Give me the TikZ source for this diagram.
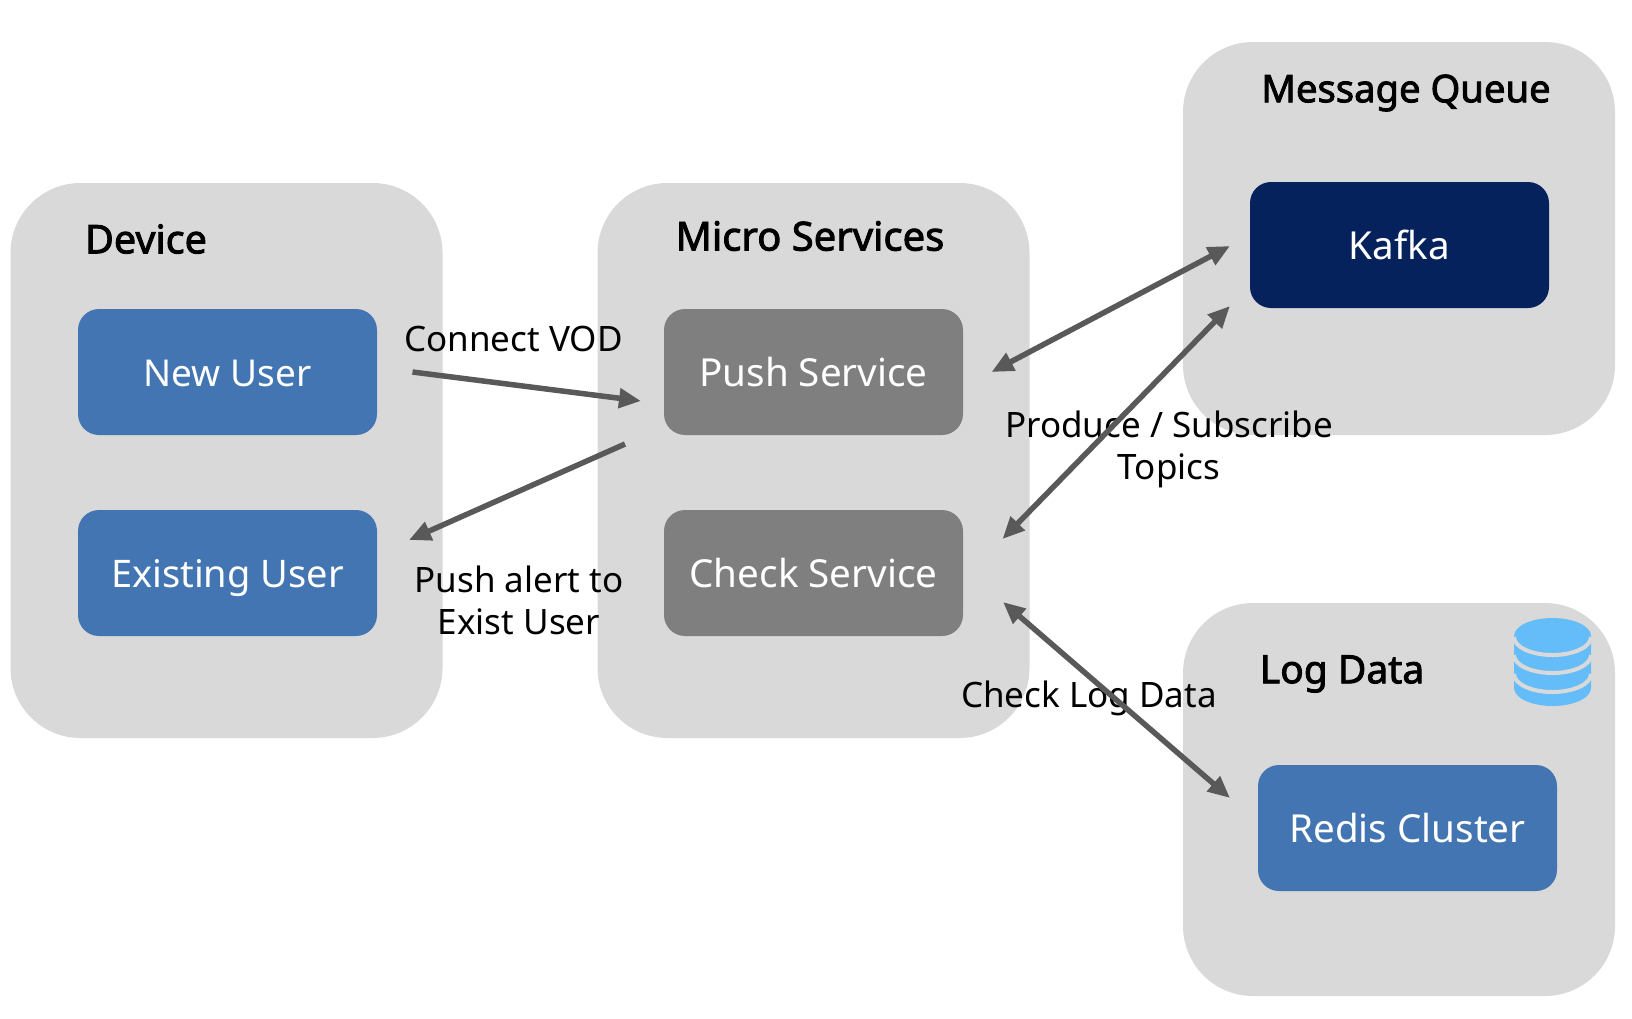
\documentclass[tikz,border=0pt]{standalone}
\usepackage{fontspec}
\setmainfont{Noto Sans}
\newfontfamily\titlefont[FakeBold=2.2]{Noto Sans}
\usetikzlibrary{arrows.meta}
\definecolor{groupgray}{HTML}{D9D9D9}
\definecolor{userblue}{HTML}{4275B1}
\definecolor{svcgray}{HTML}{7F7F7F}
\definecolor{kafkanavy}{HTML}{06225C}
\definecolor{arrowgray}{HTML}{595959}
\definecolor{dbblue}{HTML}{64BDF8}
\tikzset{
  group/.style={fill=groupgray,rounded corners=70pt,inner sep=0pt,minimum width=432pt},
  inbox/.style={rounded corners=21pt,inner sep=0pt,minimum width=299pt,minimum height=126pt,text=white,text height=28pt,text depth=0pt,font=\fontsize{38.6}{42}\selectfont},
  title/.style={inner sep=0pt,font=\fontsize{39}{42}\titlefont},
  label/.style={inner sep=0pt,align=center,font=\fontsize{35}{42}\selectfont},
  link/.style={draw=arrowgray,line width=5.5pt,-{Triangle[length=22pt,width=19pt]}},
  biglink/.style={draw=arrowgray,line width=5.5pt,{Triangle[length=22pt,width=19pt]}-{Triangle[length=22pt,width=19pt]}}
}
\begin{document}
\begin{tikzpicture}[x=1pt,y=-1pt]
\useasboundingbox (0,0) rectangle (1632,1018);
% groups
\node[group,minimum height=555pt] (device) at (226.5,460.5) {};
\node[group,minimum height=555pt] (micro) at (813.5,460.5) {};
\node[group,minimum height=393pt] (mq) at (1399,238.5) {};
\node[group,minimum height=393pt] (log) at (1399,799.5) {};
% boxes
\node[inbox,fill=userblue,font=\fontsize{37}{42}\selectfont] (newuser) at (227.5,372) {New User};
\node[inbox,fill=userblue,font=\fontsize{38}{42}\selectfont] (existing) at (227.5,573) {Existing User};
\node[inbox,fill=svcgray] (push) at (813.5,372) {Push Service};
\node[inbox,fill=svcgray] (check) at (813.5,573) {Check Service};
\node[inbox,fill=kafkanavy] (kafka) at (1399.5,245) {Kafka};
\node[inbox,fill=userblue] (redis) at (1407.5,828) {Redis Cluster};
% titles
\node[title,font=\fontsize{39.5}{42}\titlefont] (tdevice) at (146,239) {Device};
\node[title,font=\fontsize{40}{42}\titlefont] (tmicro) at (810,236) {Micro Services};
\node[title,font=\fontsize{38.2}{42}\titlefont] (tmq) at (1406,93) {Message Queue};
\node[title] (tlog) at (1342,674) {Log Data};
% labels
\node[label] (lconnect) at (513.5,338.5) {Connect VOD};
\node[label] (lpush) at (519,600.5) {Push alert to\\Exist User};
\node[label] (lprod) at (1169,449) {Produce / Subscribe\\Topics};
\node[label] (lcheck) at (1089,698) {Check Log Data};
% connector ends
\coordinate (a1) at (412.5,372);
\coordinate (a2) at (641,401);
\coordinate (b1) at (625,444);
\coordinate (b2) at (409,540);
\coordinate (c1) at (991.5,372);
\coordinate (c2) at (1230,246);
\coordinate (d1) at (1002.5,539);
\coordinate (d2) at (1230,306);
\coordinate (e1) at (1003,602);
\coordinate (e2) at (1230,798);
\draw[link] (a1) -- (a2);
\draw[link] (b1) -- (b2);
\draw[biglink] (c1) -- (c2);
\draw[biglink] (d1) -- (d2);
\draw[biglink] (e1) -- (e2);
% database icon
\fill[dbblue] (1514,636) arc[x radius=38.5,y radius=18,start angle=180,end angle=360,yscale=-1]
  -- (1591,688) arc[x radius=38.5,y radius=18,start angle=0,end angle=180,yscale=-1] -- cycle;
\foreach \yy in {637,655,674}{
  \draw[groupgray,line width=4pt] (1514,\yy) arc[x radius=38.5,y radius=18,start angle=180,end angle=0];
}
\end{tikzpicture}
\end{document}
